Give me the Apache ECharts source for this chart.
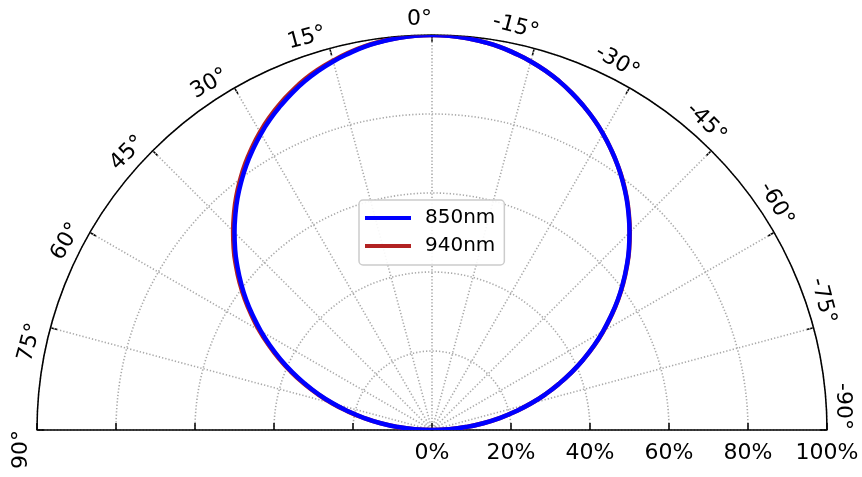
<!DOCTYPE html>
<html>
<head>
<meta charset="utf-8">
<script src="https://cdn.jsdelivr.net/npm/echarts@6/dist/echarts.min.js"></script>
<style>
html,body{margin:0;padding:0;background:#fff;}
#chart{width:862px;height:477px;}
</style>
</head>
<body>
<div id="chart"></div>
<script>
// ---- data ----
const angles = [-90,-87.5,-85,-82.5,-80,-77.5,-75,-72.5,-70,-67.5,-65,-62.5,-60,-57.5,-55,-52.5,-50,-47.5,-45,-42.5,-40,-37.5,-35,-32.5,-30,-27.5,-25,-22.5,-20,-17.5,-15,-12.5,-10,-7.5,-5,-2.5,
  0,2.5,5,7.5,10,12.5,15,17.5,20,22.5,25,27.5,30,32.5,35,37.5,40,42.5,45,47.5,50,52.5,55,57.5,60,62.5,65,67.5,70,72.5,75,77.5,80,82.5,85,87.5,90];
const r850 = [0,4.4,8.7,13.1,17.4,21.6,25.9,30.1,34.2,38.3,42.3,46.2,50.0,53.7,57.4,60.9,64.3,67.6,70.7,73.7,76.6,79.3,81.9,84.3,86.6,88.7,90.6,92.4,94.0,95.4,96.6,97.6,98.5,99.1,99.6,99.9,
  100,99.9,99.6,99.1,98.5,97.6,96.6,95.4,94.0,92.4,90.6,88.7,86.6,84.3,81.9,79.3,76.6,73.7,70.7,67.6,64.3,60.9,57.4,53.7,50.0,46.2,42.3,38.3,34.2,30.1,25.9,21.6,17.4,13.1,8.7,4.4,0];
const r940 = [0,4.4,8.7,13.1,17.4,21.6,25.9,30.1,34.2,38.3,42.3,46.3,50.1,53.8,57.5,61.0,64.4,67.7,70.8,73.8,76.7,79.4,81.9,84.3,86.6,88.7,90.6,92.4,94.0,95.4,96.6,97.6,98.5,99.1,99.6,99.9,
  100,99.9,99.6,99.2,98.6,97.8,96.8,95.7,94.4,92.8,91.1,89.2,87.1,84.8,82.4,79.8,77.1,74.2,71.2,68.1,64.8,61.4,57.9,54.2,50.5,46.6,42.7,38.7,34.6,30.4,26.2,21.8,17.5,13.2,8.8,4.4,0];
const seriesNames = ['850nm','940nm'];
const angleTickLabels = [90,75,60,45,30,15,0,-15,-30,-45,-60,-75,-90];
const radiusTicks = [0,20,40,60,80,100];

const FONT = 'DejaVu Sans';
const chart = echarts.init(document.getElementById('chart'), null, {renderer:'canvas'});
const gridLine = {color:'#a9a9a9', width:1.6, type:[1.3,2]};
const toPairs = arr => arr.map((r,i)=>[r, angles[i]]);

const option = {
  animation:false,
  backgroundColor:'#fff',
  polar:[
    {center:[432,430], radius:395},
    {center:[432,430], radius:395}
  ],
  angleAxis:[
    {polarIndex:0, type:'value', min:-90, max:90, interval:15, startAngle:0, endAngle:180, clockwise:false,
     axisLine:{show:true, lineStyle:{color:'#000', width:1.5}},
     axisTick:{show:true, inside:true, length:7, lineStyle:{color:'#000', width:1.5}},
     axisLabel:{show:false},
     splitLine:{show:true, lineStyle:gridLine}},
    {polarIndex:1, type:'value', min:-90, max:90, interval:15, startAngle:180, endAngle:0, clockwise:true,
     axisLine:{show:false}, axisTick:{show:false}, axisLabel:{show:false}, splitLine:{show:false}}
  ],
  radiusAxis:[
    {polarIndex:0, type:'value', min:radiusTicks[0], max:radiusTicks[radiusTicks.length-1], interval:20,
     axisLine:{show:true, lineStyle:{color:'#000', width:1.5}},
     axisTick:{show:true, length:7, lineStyle:{color:'#000', width:1.5}},
     axisLabel:{show:true, margin:-34, color:'#000', fontFamily:FONT, fontSize:22, formatter:'{value}%'},
     splitLine:{show:true, lineStyle:gridLine}},
    {polarIndex:1, type:'value', min:radiusTicks[0], max:radiusTicks[radiusTicks.length-1], interval:20,
     axisLine:{show:true, lineStyle:{color:'#000', width:1.5}},
     axisTick:{show:true, length:-7, lineStyle:{color:'#000', width:1.5}},
     axisLabel:{show:false}, splitLine:{show:false}}
  ],
  legend:{
    left:359, top:200, orient:'vertical', data:seriesNames,
    backgroundColor:'rgba(255,255,255,0.9)', borderColor:'#cccccc', borderWidth:1.5, borderRadius:4,
    padding:[8,9,9,6], itemGap:8, itemWidth:46, itemHeight:4, icon:'rect',
    textStyle:{fontFamily:FONT, fontSize:20, color:'#000', padding:[0,0,0,9]}
  },
  series:[
    {name:seriesNames[1], type:'line', coordinateSystem:'polar', polarIndex:0, data:toPairs(r940),
     smooth:true, showSymbol:false, symbol:'none', color:'#b22222', lineStyle:{color:'#b22222', width:4.5}, z:2},
    {name:seriesNames[0], type:'line', coordinateSystem:'polar', polarIndex:0, data:toPairs(r850),
     smooth:true, showSymbol:false, symbol:'none', color:'#0000ff', lineStyle:{color:'#0000ff', width:4.5}, z:3}
  ]
};
chart.setOption(option);

// rotated angle tick labels, positioned through the polar coordinate system
const c = chart.convertToPixel({seriesIndex:0}, [0, 0]);
const labels = angleTickLabels.map(a => {
  const p = chart.convertToPixel({seriesIndex:0}, [100, a]);
  const dx = p[0]-c[0], dy = p[1]-c[1];
  const L = Math.hypot(dx, dy);
  const k = (L + 16) / L;
  return {type:'text', x:c[0]+dx*k, y:c[1]+dy*k, rotation:a*Math.PI/180, z:10,
    style:{text:a+'°', align:'right', verticalAlign:'middle', font:'22px "'+FONT+'"', fill:'#000'}};
});
chart.setOption({graphic:labels});
</script>
</body>
</html>
